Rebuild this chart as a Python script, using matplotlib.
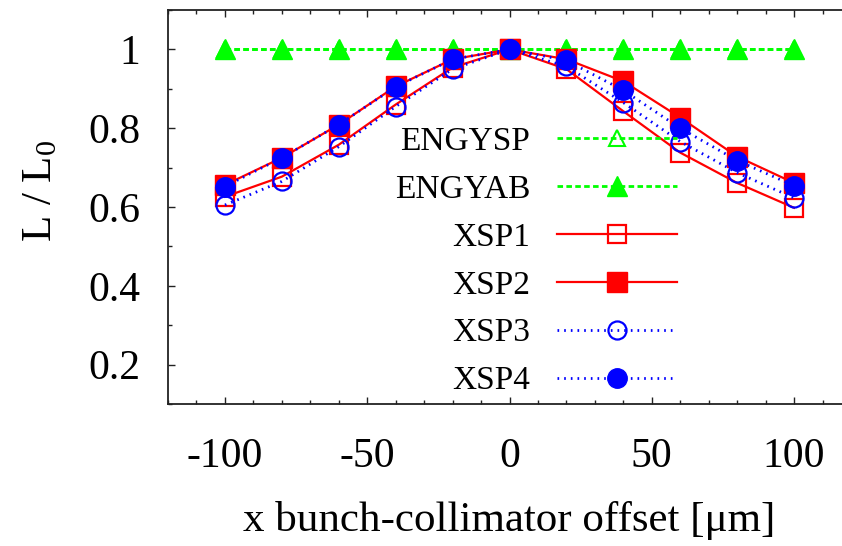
import matplotlib
matplotlib.use("Agg")
import matplotlib.pyplot as plt
from matplotlib.ticker import MultipleLocator, FormatStrFormatter

plt.rcParams['font.family'] = ['Liberation Serif', 'DejaVu Serif']
plt.rcParams['mathtext.fontset'] = 'custom'
plt.rcParams['mathtext.rm'] = 'Liberation Serif'
plt.rcParams['mathtext.default'] = 'regular'
plt.rcParams['axes.unicode_minus'] = False

# offsets in micrometres
offset = [-100, -80, -60, -40, -20, 0, 20, 40, 60, 80, 100]

engysp = [1.0, 1.0, 1.0, 1.0, 1.0, 1.0, 1.0, 1.0, 1.0, 1.0, 1.0]
engyab = [1.0, 1.0, 1.0, 1.0, 1.0, 1.0, 1.0, 1.0, 1.0, 1.0, 1.0]
xsp1 = [0.626, 0.677, 0.758, 0.860, 0.954, 1.0, 0.950, 0.843, 0.738, 0.661, 0.598]
xsp2 = [0.656, 0.725, 0.809, 0.906, 0.975, 1.0, 0.975, 0.919, 0.827, 0.728, 0.661]
xsp3 = [0.605, 0.665, 0.753, 0.855, 0.950, 1.0, 0.957, 0.865, 0.766, 0.687, 0.623]
xsp4 = [0.652, 0.725, 0.809, 0.905, 0.975, 1.0, 0.972, 0.896, 0.800, 0.718, 0.654]

GREEN = '#00ff00'
RED = '#ff0000'
BLUE = '#0000ff'

fig = plt.figure(figsize=(8.42, 5.46), dpi=100)
ax = fig.add_axes([168 / 842, 142 / 546, 683 / 842, 394 / 546])

dash = (0, (2.0, 1.2))
dot = (0, (0.6, 1.8))

ax.plot(offset, engysp, color=GREEN, ls=dash, lw=2.0, marker='^', ms=12,
        mfc='none', mec=GREEN, mew=1.5, label='ENGYSP')
ax.plot(offset, engyab, color=GREEN, ls=dash, lw=2.0, marker='^', ms=14,
        mfc=GREEN, mec=GREEN, label='ENGYAB')
ax.plot(offset, xsp1, color=RED, ls='-', lw=1.6, marker='s', ms=13,
        mfc='none', mec=RED, mew=1.6, label='XSP1')
ax.plot(offset, xsp2, color=RED, ls='-', lw=1.6, marker='s', ms=14,
        mfc=RED, mec=RED, label='XSP2')
ax.plot(offset, xsp3, color=BLUE, ls=dot, lw=2.0, marker='o', ms=13,
        mfc='none', mec=BLUE, mew=1.6, label='XSP3')
ax.plot(offset, xsp4, color=BLUE, ls=dot, lw=2.0, marker='o', ms=14,
        mfc=BLUE, mec=BLUE, label='XSP4')

ax.set_xlim(-120, 120)
ax.set_ylim(0.1, 1.1)
ax.xaxis.set_major_locator(MultipleLocator(50))
ax.xaxis.set_minor_locator(MultipleLocator(10))
ax.yaxis.set_minor_locator(MultipleLocator(0.1))
ax.set_yticks([0.2, 0.4, 0.6, 0.8, 1.0])
ax.yaxis.set_major_formatter(FormatStrFormatter('%g'))

ax.tick_params(which='both', direction='in', top=True, right=True,
               width=1.0, color='#222222')
ax.tick_params(which='major', length=5)
ax.tick_params(which='minor', length=3)
ax.tick_params(axis='y', which='major', labelsize=30, pad=20)
ax.tick_params(axis='x', which='major', labelsize=30, pad=24)
for s in ax.spines.values():
    s.set_linewidth(1.3)
    s.set_color('#222222')

ax.set_xlabel('x bunch-collimator offset [μm]', fontsize=31, labelpad=18)
ax.set_ylabel('L / L$_0$', fontsize=31)
ax.yaxis.set_label_coords(-0.158, 0.54)

leg = ax.legend(loc='upper right', bbox_to_anchor=(0.745, 0.704),
                frameon=False, markerfirst=False, fontsize=24,
                handlelength=3.6, handletextpad=0.8, labelspacing=0.52,
                borderaxespad=0, borderpad=0)

fig.savefig('out.png', dpi=100)
